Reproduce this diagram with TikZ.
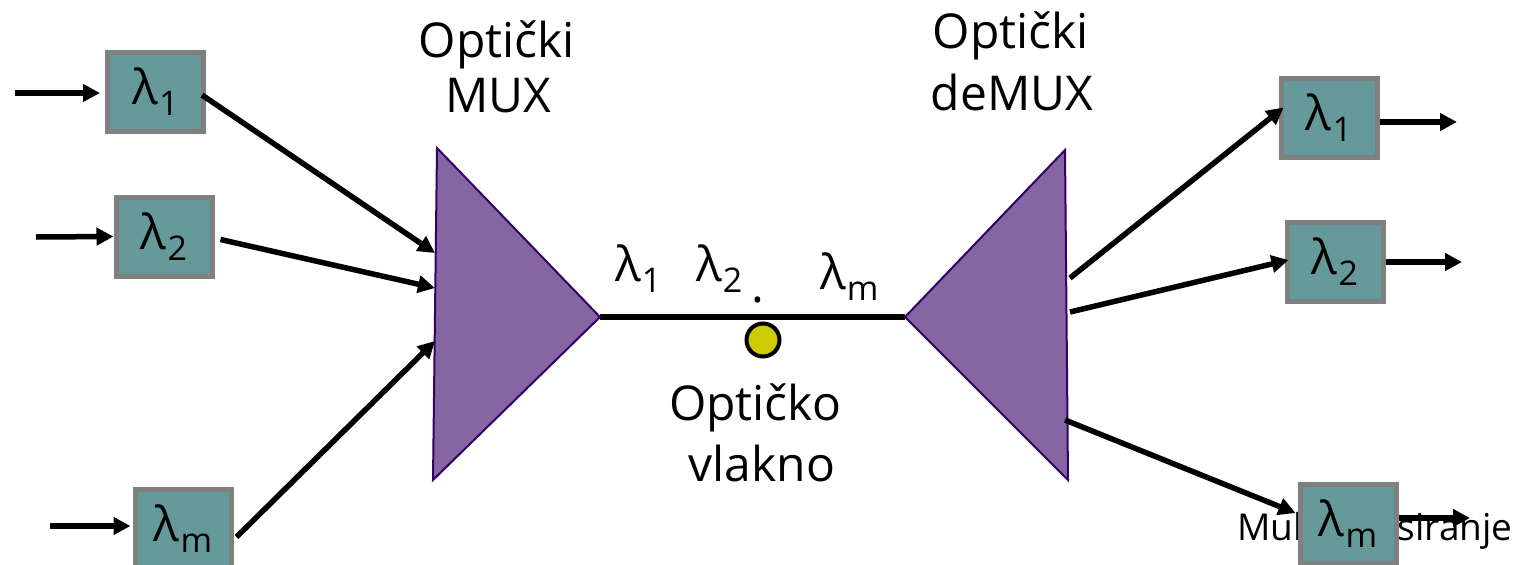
\documentclass[tikz,border=0pt]{standalone}
\usepackage{fontspec}
\setmainfont{Open Sans}
\usetikzlibrary{arrows.meta,calc}
\definecolor{boxfill}{HTML}{669999}
\definecolor{boxline}{HTML}{808080}
\definecolor{trifill}{HTML}{8566A2}
\definecolor{triline}{HTML}{330066}
\definecolor{dotfill}{HTML}{CCCC00}
\newcommand{\lamsub}[1]{λ\kern1pt\raisebox{-11pt}{\fontsize{34}{34}\selectfont #1}}
\begin{document}
\begin{tikzpicture}[x=1pt,y=-1pt,
  wbox/.style={draw=boxline, fill=boxfill, line width=5pt, minimum width=96pt,
    minimum height=79pt, inner sep=0pt, font=\fontsize{48}{48}\selectfont},
  arr/.style={line width=5.5pt, -{Triangle[length=17pt,width=17pt]}},
  wire/.style={line width=5.5pt},
  lbl/.style={font=\fontsize{48}{48}\selectfont, anchor=base, inner sep=0pt},
  lamlbl/.style={font=\fontsize{48}{48}\selectfont, anchor=base west, inner sep=0pt},
  tri/.style={fill=trifill, draw=triline, line width=2pt, line join=miter},
]
\useasboundingbox (0,0) rectangle (1529,565);

% triangles and fibre
\coordinate (muxT) at (437,148);
\coordinate (muxR) at (600,317);
\coordinate (muxB) at (433,480);
\coordinate (demL) at (905,317);
\coordinate (demT) at (1065,150);
\coordinate (demB) at (1068,480);
\draw[wire] (muxR) -- (demL);
\filldraw[tri] (muxT) -- (muxR) -- (muxB) -- cycle;
\filldraw[tri] (demL) -- (demT) -- (demB) -- cycle;

% labels
\node[lbl] (muxa) at (497,57) {Optički};
\node[lbl] (muxb) at (498,112) {MUX};
\node[lbl] (dema) at (1011,48) {Optički};
\node[lbl] (demb) at (1012,110) {deMUX};
\node[lbl] (fibA) at (755,420) {Optičko};
\node[lbl] (fibB) at (762,481) {vlakno};
\node[lamlbl] (fl1) at (615,281) {\lamsub{1}};
\node[lamlbl] (fl2) at (696,281) {\lamsub{2}};
\node[inner sep=0pt, font=\fontsize{48}{48}\selectfont, anchor=base] (fdot) at (758,302) {.};
\node[lamlbl] (flm) at (820,289) {\lamsub{m}};

% fibre dot
\node[circle, fill=dotfill, draw=black, line width=4pt, minimum size=33pt, inner sep=0pt] (dot) at (763,340) {};

% bottom-right text (partly hidden by the box)
\node[font=\fontsize{37}{37}\selectfont, anchor=base, inner sep=0pt] (multi) at (1375,540) {Multipleksiranje};

% boxes
\node[wbox] (L1) at (155.5,92) {\lamsub{1}};
\node[wbox] (L2) at (164,236.5) {\lamsub{2}};
\node[wbox] (Lm) at (183,529) {\lamsub{m}};
\node[wbox] (R1) at (1329,117.5) {\lamsub{1}};
\node[wbox] (R2) at (1335,262) {\lamsub{2}};
\node[wbox] (Rm) at (1348,524) {\lamsub{m}};

% coordinates
\coordinate (i1) at (15,93);
\coordinate (i2) at (36,237);
\coordinate (i3) at (50,526);
\coordinate (m1) at (435,253);
\coordinate (m2) at (435,288);
\coordinate (m3) at (435,341);
\coordinate (d1) at (1070,278);
\coordinate (d2) at (1070,312);
\coordinate (d3) at (1065,420);
\coordinate (o1) at (1457,122);
\coordinate (o2) at (1462,262);
\coordinate (o3) at (1470,518);

% inputs
\draw[arr] (i1) -- ($(L1.west)+(-5,1)$);
\draw[arr] (i2) -- (L2.west);
\draw[arr] (i3) -- ($(Lm.west)+(-2,-3)$);
\draw[arr] ($(L1.east)+(-4,3)$) -- (m1);
\draw[arr] ($(L2.east)+(6,3)$) -- (m2);
\draw[arr] ($(Lm.east)+(3,8)$) -- (m3);
% outputs
\draw[arr] (d1) -- ($(R1.west)+(5,-10)$);
\draw[arr] (d2) -- ($(R2.west)+(4,-2)$);
\draw[arr] (d3) -- ($(Rm.west)+(-2,-11)$);
\draw[arr] ($(R1.east)+(0,4.5)$) -- (o1);
\draw[arr] (R2.east) -- (o2);
\draw[arr] ($(Rm.east)+(0,-6)$) -- (o3);
\end{tikzpicture}
\end{document}
